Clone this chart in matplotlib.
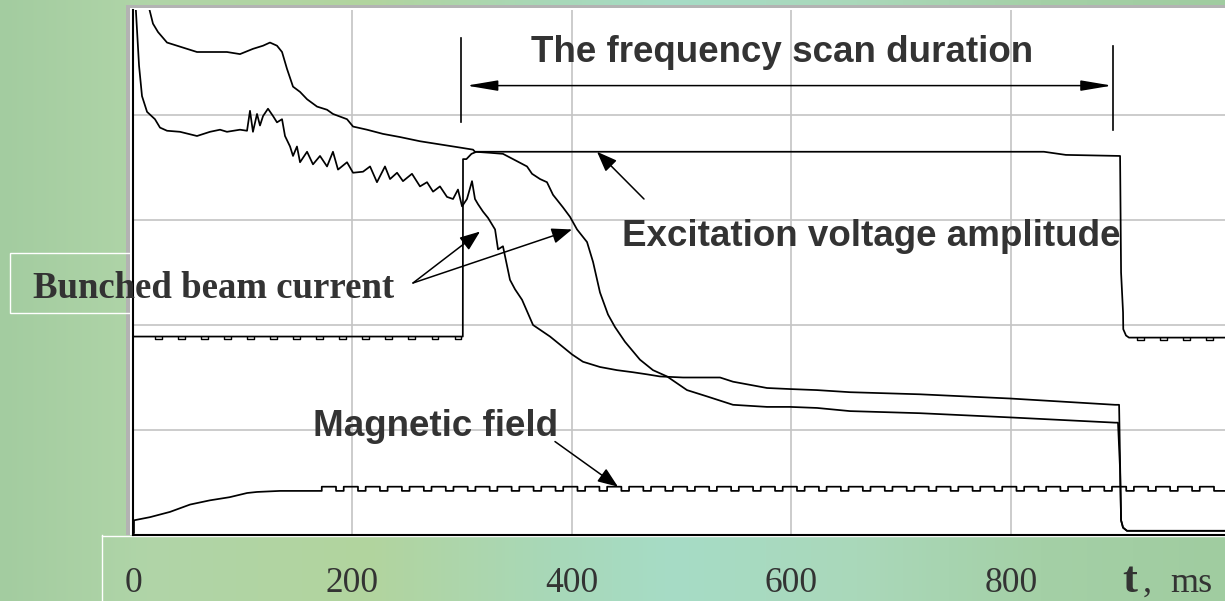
import numpy as np
import matplotlib
matplotlib.use("Agg")
import matplotlib.pyplot as plt
import matplotlib.transforms as mtransforms
from matplotlib.patches import Rectangle
from matplotlib.lines import Line2D

# ---------------- data (t in ms, signal in grid divisions) ----------------
xtick_vals = [0, 200, 400, 600, 800]

beamA_t = [11.5, 18.2, 22.8, 31.0, 40.1, 58.3, 72.9, 85.6, 97.5, 109.3, 118.5, 124.8,
           131.2, 135.8, 140.3, 145.8, 152.2, 158.6, 167.7, 176.8, 182.2, 195.0, 200.5,
           213.2, 227.8, 243.3, 261.5, 279.7, 297.9, 309.8, 311.6, 325.3, 337.1, 349.9,
           359.0, 363.6, 370.9, 377.2, 382.7, 391.8, 398.2, 404.6, 413.7, 419.2, 425.5,
           432.8, 439.2, 448.3, 461.9, 473.8, 486.6, 504.8, 523.0, 546.7, 577.7, 598.7,
           623.3, 653.3, 717.1, 799.1, 894.8, 897.5, 899.4, 900.3, 902.1, 905.7, 995.0]
beamA_v = [5.15, 4.87, 4.79, 4.69, 4.66, 4.60, 4.60, 4.60, 4.58, 4.63, 4.66, 4.69,
           4.66, 4.60, 4.44, 4.27, 4.22, 4.15, 4.08, 4.05, 4.01, 3.96, 3.89,
           3.86, 3.82, 3.79, 3.75, 3.72, 3.69, 3.67, 3.65, 3.64, 3.63, 3.56,
           3.51, 3.44, 3.39, 3.36, 3.24, 3.12, 3.03, 2.91, 2.79, 2.60, 2.31,
           2.10, 1.98, 1.84, 1.67, 1.57, 1.51, 1.38, 1.32, 1.24, 1.22, 1.22,
           1.21, 1.18, 1.16, 1.12, 1.07, 1.07, 0.62, 0.14, 0.07, 0.04, 0.04]

beamB_t = [1.8, 5.5, 8.2, 12.8, 20.0, 24.6, 31.0, 42.8, 58.3, 70.2, 79.3, 85.6, 97.5,
           103.9, 106.6, 109.3, 113.0, 115.7, 118.5, 123.0, 127.6, 131.2, 135.8, 138.5,
           143.1, 145.8, 149.4, 152.2, 158.6, 164.0, 170.4, 176.8, 182.2, 186.8, 195.0,
           200.5, 209.6, 216.0, 222.3, 229.6, 234.2, 240.6, 246.0, 254.2, 261.5, 267.9,
           273.4, 279.7, 286.1, 291.6, 296.1, 299.8, 304.3, 308.9, 311.6, 314.4, 318.9,
           323.5, 329.9, 332.6, 337.1, 343.5, 348.1, 354.5, 364.5, 380.0, 391.8, 400.0,
           410.0, 425.5, 441.0, 455.6, 468.4, 480.2, 501.2, 534.9, 546.7, 577.7, 598.7,
           623.3, 653.3, 717.1, 799.1, 894.8, 898.5, 900.3, 902.1, 905.7, 995.0]
beamB_v = [5.15, 4.47, 4.18, 4.03, 3.96, 3.88, 3.85, 3.84, 3.80, 3.84, 3.86, 3.84, 3.86,
           3.85, 4.04, 3.84, 4.01, 3.90, 3.99, 4.06, 3.99, 3.93, 3.96, 3.80,
           3.70, 3.61, 3.70, 3.55, 3.65, 3.53, 3.61, 3.51, 3.65, 3.48, 3.55,
           3.45, 3.46, 3.51, 3.36, 3.51, 3.39, 3.45, 3.37, 3.44, 3.32, 3.36,
           3.27, 3.32, 3.22, 3.20, 3.29, 3.13, 3.20, 3.37, 3.20, 3.15, 3.08,
           3.02, 2.91, 2.72, 2.75, 2.43, 2.34, 2.24, 2.00, 1.89, 1.79, 1.72,
           1.65, 1.60, 1.57, 1.55, 1.53, 1.51, 1.50, 1.50, 1.46, 1.40, 1.39,
           1.38, 1.36, 1.34, 1.30, 1.24, 1.24, 0.14, 0.07, 0.04, 0.04]

exc_t = [0, 300.5, 300.7, 303.8, 308.4, 313.0, 830.0, 850.0, 899.4, 900.3, 902.1,
         902.3, 904.8, 907.5, 995.0]
exc_v = [1.89, 1.89, 3.58, 3.58, 3.63, 3.65, 3.65, 3.62, 3.61, 2.50, 2.12,
         1.96, 1.90, 1.88, 1.88]
exc_dip_t = [20, 41, 62, 83, 104, 125, 146, 167, 188, 209, 230, 251, 272, 293,
             915, 936, 957, 978]
exc_dip_depth = 0.025
exc_dip_w = 6

mag_t = [0.9, 0.9, 15.5, 33.7, 52.0, 70.0, 88.0, 104.0, 113.0, 134.0, 170.0]
mag_v = [0.02, 0.14, 0.17, 0.22, 0.29, 0.33, 0.36, 0.40, 0.41, 0.42, 0.42]
mag_low, mag_high = 0.42, 0.46
mag_pulse_t = [172, 192, 212, 232, 252, 272, 292, 312, 332, 352, 372, 392, 412, 432,
               452, 472, 492, 512, 532, 552, 572, 592, 612, 632, 652, 672, 692, 712,
               732, 752, 772, 792, 812, 832, 852, 872, 892, 912, 932, 952, 972]
mag_pulse_w = 13

scan_start, scan_end = 299.0, 893.0

# ---------------- figure ----------------
W, H = 1225, 601
fig = plt.figure(figsize=(W / 100, H / 100), dpi=100)

def fx(px):
    return px / W

def fy(py):
    return 1 - py / H

# marbled-green background (smooth gradient)
bg = fig.add_axes([0, 0, 1, 1], zorder=-10)
xs = np.linspace(0, 1, W)
stops_x = [0, .12, .3, .45, .55, .7, .85, 1]
stops_c = np.array([(163, 204, 160), (176, 213, 168), (178, 212, 158), (168, 216, 184),
                    (166, 220, 198), (170, 216, 186), (164, 208, 166), (160, 204, 160)]) / 255
row = np.stack([np.interp(xs, stops_x, stops_c[:, k]) for k in range(3)], axis=-1)
img = np.repeat(row[None, :, :], H, axis=0)
bg.imshow(img, aspect="auto", extent=[0, 1, 0, 1])
bg.axis("off")

# gray frame and white panel behind plot
fig.patches.append(Rectangle((fx(126), fy(535)), fx(1240) - fx(126), fy(5) - fy(535),
                             transform=fig.transFigure, facecolor="#b3b3b3",
                             edgecolor="none", zorder=-5))
fig.patches.append(Rectangle((fx(130), fy(535)), fx(1240) - fx(130), fy(8) - fy(535),
                             transform=fig.transFigure, facecolor="white",
                             edgecolor="none", zorder=-4))
# white outline boxes
fig.patches.append(Rectangle((fx(10), fy(313)), fx(133) - fx(10), fy(253) - fy(313),
                             transform=fig.transFigure, facecolor="none",
                             edgecolor="white", lw=1.0, zorder=-3))
fig.lines.append(Line2D([fx(102), fx(102)], [fy(535), fy(605)], transform=fig.transFigure,
                        color="white", lw=1.0, zorder=-3))
fig.lines.append(Line2D([fx(102), fx(1225)], [fy(536), fy(536)], transform=fig.transFigure,
                        color="white", lw=1.0, zorder=-3))

ax = fig.add_axes([fx(133), fy(535), fx(1225) - fx(133), fy(10) - fy(535)])
ax.set_facecolor("white")
ax.set_xlim(0, 995)
ax.set_ylim(0, 5)
ax.set_xticks(xtick_vals)
ax.set_yticks([1, 2, 3, 4])
ax.grid(True, color="#c4c4c4", lw=1.2)
ax.set_axisbelow(True)
ax.tick_params(length=0, labelbottom=False, labelleft=False)
for s in ["top", "right"]:
    ax.spines[s].set_visible(False)
for s in ["left", "bottom"]:
    ax.spines[s].set_color("black")
    ax.spines[s].set_linewidth(1.5)

lw = 1.25
ax.plot(beamA_t, beamA_v, color="black", lw=lw)
ax.plot(beamB_t, beamB_v, color="black", lw=lw)
ax.plot(exc_t, exc_v, color="black", lw=lw)
# small periodic dips of the excitation trace baseline
for d in exc_dip_t:
    base = np.interp(d, exc_t, exc_v)
    ax.plot([d, d, d + exc_dip_w, d + exc_dip_w],
            [base, base - exc_dip_depth, base - exc_dip_depth, base],
            color="black", lw=1.0)

mt = list(mag_t)
mv = list(mag_v)
for p in mag_pulse_t:
    mt += [p, p, p + mag_pulse_w, p + mag_pulse_w]
    mv += [mag_low, mag_high, mag_high, mag_low]
mt.append(995)
mv.append(mag_low)
ax.plot(mt, mv, color="black", lw=lw)

# scan duration markers
ax.plot([scan_start, scan_start], [3.93, 4.73], color="black", lw=1.2)
ax.plot([scan_end, scan_end], [3.86, 4.66], color="black", lw=1.2)
ax.annotate("", xy=(scan_end - 1, 4.28), xytext=(scan_start + 5, 4.28),
            arrowprops=dict(arrowstyle="<|-|>,head_length=0.95,head_width=0.16",
                            color="black", lw=1.1, shrinkA=0, shrinkB=0,
                            mutation_scale=20))

def arrow(start, tip):
    ax.annotate("", xy=tip, xytext=start,
                arrowprops=dict(arrowstyle="-|>,head_length=0.62,head_width=0.24",
                                color="black", lw=1.1, shrinkA=0, shrinkB=0,
                                mutation_scale=20))

arrow((255.1, 2.40), (316.2, 2.89))
arrow((255.1, 2.40), (400.0, 2.91))
arrow((465.6, 3.20), (422.8, 3.65))
arrow((384.5, 0.89), (441.9, 0.46))

txt_col = "#333333"
sans = dict(family=["Liberation Sans", "DejaVu Sans"], fontweight="bold",
            fontsize=26.5, color=txt_col)
ax.text(591, 4.50, "The frequency scan duration", ha="center", va="baseline", **sans)
ax.text(673, 2.75, "Excitation voltage amplitude", ha="center", va="baseline", **sans)
ax.text(275.6, 0.945, "Magnetic field", ha="center", va="baseline", **sans)
ax.text(73.0, 2.26, "Bunched beam current", ha="center", va="baseline",
        family=["Liberation Serif", "DejaVu Serif"], fontweight="bold",
        fontsize=26.5, color=txt_col, clip_on=False)

tr = mtransforms.blended_transform_factory(ax.transData, fig.transFigure)
for v in xtick_vals:
    ax.text(v, fy(592), str(v), transform=tr, ha="center", va="baseline",
            family=["Liberation Serif", "DejaVu Serif"], fontsize=25.5, color=txt_col,
            clip_on=False)
fig.text(fx(1122), fy(592), "t", ha="left", va="baseline",
         family=["Liberation Serif", "DejaVu Serif"], fontweight="bold",
         fontsize=32, color=txt_col)
fig.text(fx(1143), fy(592), ",", ha="left", va="baseline",
         family=["Liberation Serif", "DejaVu Serif"], fontsize=26, color=txt_col)
fig.text(fx(1170), fy(592), "ms", ha="left", va="baseline",
         family=["Liberation Serif", "DejaVu Serif"], fontsize=26, color=txt_col)

fig.savefig("out.png", dpi=100)
